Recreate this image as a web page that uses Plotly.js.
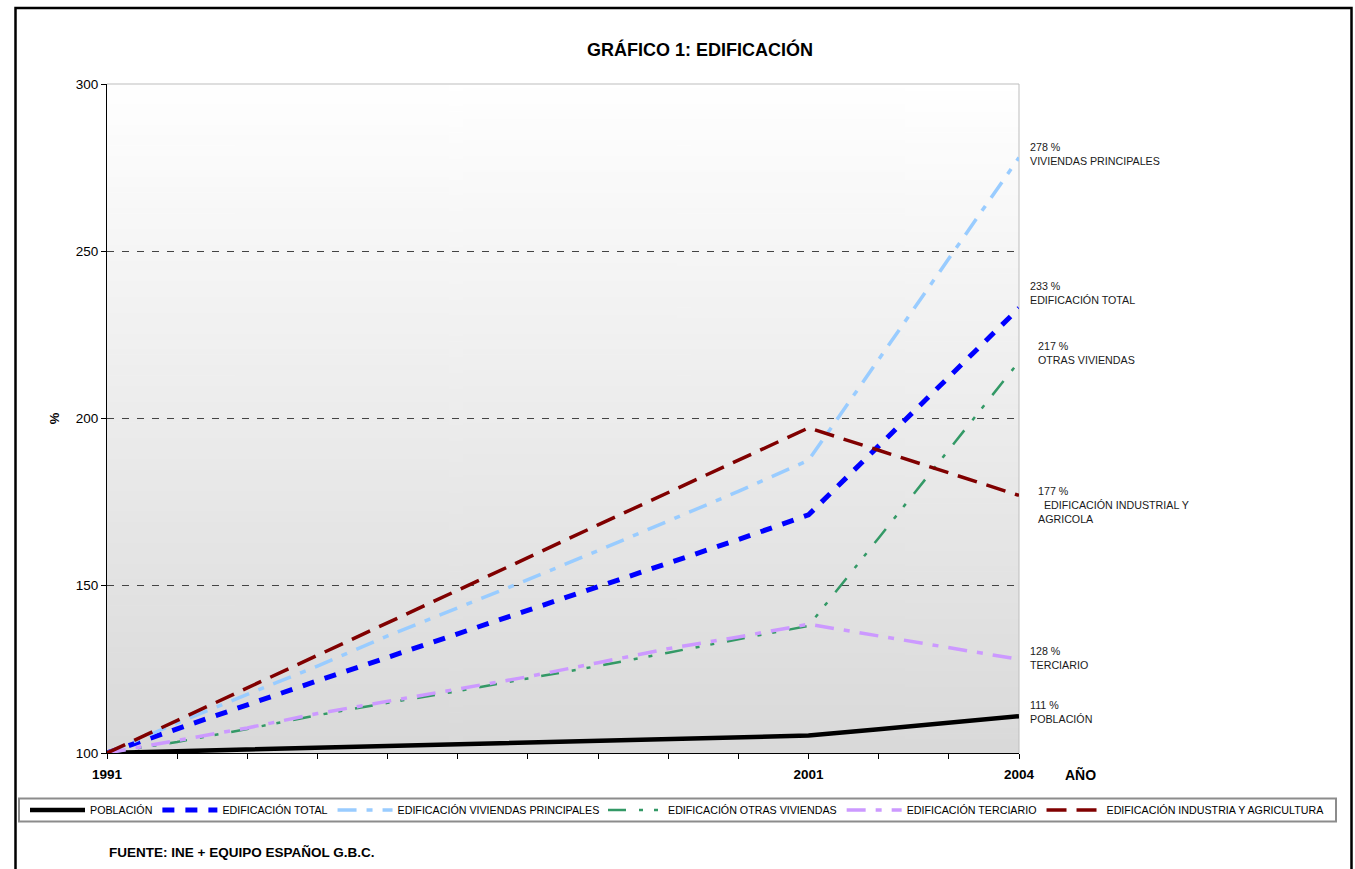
<!DOCTYPE html>
<html>
<head>
<meta charset="utf-8">
<script src="https://cdn.plot.ly/plotly-3.0.1.min.js"></script>
<style>
  html, body { margin: 0; padding: 0; background: #ffffff; }
  #chart { width: 1355px; height: 869px; }
</style>
</head>
<body>
<div id="chart"></div>
<script>
// Índices 1991 = 100
const years = [1991, 1992, 1993, 1994, 1995, 1996, 1997, 1998, 1999, 2000, 2001, 2002, 2003, 2004];
const labelledYears = [1991, 2001, 2004];

const poblacion        = [100, 100.5, 101.0, 101.5, 102.0, 102.4, 103.0, 103.6, 104.1, 104.6, 105.2, 107.1, 109.1, 111];
const edifTotal        = [100, 107.3, 114.4, 121.6, 128.6, 135.6, 142.6, 149.5, 156.6, 163.8, 171.2, 191.8, 212.4, 233];
const edifViviendasPr  = [100, 109.0, 117.5, 126.0, 135.0, 143.4, 151.8, 160.5, 169.3, 178.2, 187.5, 217.7, 247.8, 278];
const edifOtrasViv     = [100, 103.3, 107.2, 111.3, 115.0, 118.5, 122.3, 126.0, 130.0, 134.0, 138.0, 164.3, 190.7, 217];
const edifTerciario    = [100, 103.8, 107.5, 111.8, 115.4, 119.0, 122.8, 127.0, 131.2, 134.7, 138.5, 135.0, 131.5, 128];
const edifIndustria    = [100, 109.7, 119.5, 129.2, 139.0, 148.7, 158.4, 168.2, 177.9, 187.6, 197.2, 190.5, 183.8, 177];

const yTicks = [100, 150, 200, 250, 300];

const legendNames = [
  'POBLACIÓN',
  'EDIFICACIÓN TOTAL',
  'EDIFICACIÓN VIVIENDAS PRINCIPALES',
  'EDIFICACIÓN OTRAS VIVIENDAS',
  'EDIFICACIÓN TERCIARIO',
  'EDIFICACIÓN INDUSTRIA Y AGRICULTURA'
];
const endLabels = [
  'POBLACIÓN',
  'EDIFICACIÓN TOTAL',
  'VIVIENDAS PRINCIPALES',
  'OTRAS VIVIENDAS',
  'TERCIARIO',
  '\u00a0\u00a0EDIFICACIÓN INDUSTRIAL Y<br>AGRICOLA'
];
const seriesValues = [poblacion, edifTotal, edifViviendasPr, edifOtrasViv, edifTerciario, edifIndustria];

// line styles per series
const styles = [
  { color: '#000000', width: 4.5, dash: 'solid' },
  { color: '#0000FF', width: 5,   dash: '12px,11px' },
  { color: '#99CCFF', width: 3.5, dash: '19px,10px,6px,10px' },
  { color: '#339966', width: 2.5, dash: '18px,13px,4px,11px,4px,13px' },
  { color: '#CC99FF', width: 3.5, dash: '19px,10px,6px,10px' },
  { color: '#800000', width: 3.5, dash: '20px,10px' }
];
// the legend row is split into two groups so it stays on one line
const legendGroupOf = ['legend', 'legend', 'legend', 'legend2', 'legend2', 'legend2'];

// placement of the end-of-line labels (value axis centre, pixel shift right of 2004)
const endLabelPlacement = [
  { y: 112.3, shift: 9 },
  { y: 237.5, shift: 9 },
  { y: 279.2, shift: 9 },
  { y: 219.6, shift: 17 },
  { y: 128.4, shift: 9 },
  { y: 174.1, shift: 17 }
];

const FONT = 'Liberation Sans, Arial, Helvetica, sans-serif';
const W = 1355, H = 869;
const M = { l: 107, r: 336, t: 84, b: 116 };
const plotW = W - M.l - M.r, plotH = H - M.t - M.b;
const px = v => (v - M.l) / plotW;          // page x -> paper x
const py = v => (H - M.b - v) / plotH;      // page y -> paper y

// vertical white-to-grey wash behind the plot area
function gradientSource(top, bottom) {
  const c = document.createElement('canvas');
  c.width = 4; c.height = 256;
  const g = c.getContext('2d');
  const grad = g.createLinearGradient(0, 0, 0, 256);
  grad.addColorStop(0, top);
  grad.addColorStop(1, bottom);
  g.fillStyle = grad;
  g.fillRect(0, 0, 4, 256);
  return c.toDataURL('image/png');
}

const traces = seriesValues.map((vals, i) => ({
  type: 'scatter',
  mode: 'lines',
  name: legendNames[i],
  legend: legendGroupOf[i],
  x: years,
  y: vals,
  line: { color: styles[i].color, width: styles[i].width, dash: styles[i].dash },
  hoverinfo: 'x+y+name'
}));

const endAnnotations = seriesValues.map((vals, i) => ({
  xref: 'x', yref: 'y',
  x: years[years.length - 1],
  y: endLabelPlacement[i].y,
  xshift: endLabelPlacement[i].shift,
  xanchor: 'left', yanchor: 'middle', align: 'left',
  showarrow: false,
  text: vals[vals.length - 1] + ' %<br>' + endLabels[i],
  font: { family: FONT, size: 10.7, color: '#1a1a1a' }
}));

const legendCommon = {
  orientation: 'h',
  xanchor: 'left', yanchor: 'top',
  bgcolor: 'rgba(0,0,0,0)', borderwidth: 0,
  itemwidth: 55,
  font: { family: FONT, size: 10.7, color: '#000000' }
};

const layout = {
  width: W, height: H,
  margin: M,
  paper_bgcolor: '#ffffff',
  plot_bgcolor: 'rgba(0,0,0,0)',
  font: { family: FONT, color: '#000000' },
  title: {
    text: '<b>GRÁFICO 1: EDIFICACIÓN</b>',
    font: { family: FONT, size: 18, color: '#000000' },
    xref: 'container', yref: 'container',
    x: 700 / W, y: 1 - 50 / H, xanchor: 'center', yanchor: 'middle'
  },
  showlegend: true,
  legend: Object.assign({}, legendCommon, { x: px(25), y: py(795.5) }),
  legend2: Object.assign({}, legendCommon, { x: px(603), y: py(795.5) }),
  xaxis: {
    range: [years[0], years[years.length - 1]],
    tickvals: years,
    ticktext: years.map(y => labelledYears.includes(y) ? String(y) : ''),
    ticks: 'outside', ticklen: 5, tickcolor: '#000000', tickwidth: 1,
    showline: true, linecolor: '#000000', linewidth: 1,
    showgrid: false, zeroline: false,
    tickfont: { family: FONT, size: 13.5, color: '#000000', weight: 'bold' },
    ticklabelstandoff: 4
  },
  yaxis: {
    range: [yTicks[0], yTicks[yTicks.length - 1]],
    tickvals: yTicks,
    ticks: 'outside', ticklen: 5, tickcolor: '#000000', tickwidth: 1,
    showline: true, linecolor: '#000000', linewidth: 1,
    zeroline: false,
    showgrid: true, gridcolor: '#444444', gridwidth: 1, griddash: '7px,8px',
    tickfont: { family: FONT, size: 13.5, color: '#000000' },
    automargin: true,
    title: { text: '<b>%</b>', font: { family: FONT, size: 13, color: '#000000' }, standoff: 13 }
  },
  images: [{
    source: gradientSource('#ffffff', '#d9d9d9'),
    xref: 'paper', yref: 'paper',
    x: 0, y: 1, sizex: 1, sizey: 1,
    xanchor: 'left', yanchor: 'top',
    sizing: 'stretch', layer: 'below'
  }],
  shapes: [
    // light frame on the open sides of the plot area
    { type: 'line', xref: 'paper', yref: 'paper', x0: 0, x1: 1, y0: 1, y1: 1,
      line: { color: '#bdbdbd', width: 1 }, layer: 'below' },
    { type: 'line', xref: 'paper', yref: 'paper', x0: 1, x1: 1, y0: 0, y1: 1,
      line: { color: '#bdbdbd', width: 1 }, layer: 'below' },
    // box around the legend row
    { type: 'rect', xref: 'paper', yref: 'paper',
      x0: px(19), x1: px(1336), y0: py(821.5), y1: py(798.5),
      line: { color: '#8c8c8c', width: 2 }, fillcolor: '#ffffff', layer: 'below' },
    // outer frame of the figure
    { type: 'rect', xref: 'paper', yref: 'paper',
      x0: px(15.5), x1: px(1351.5), y0: py(900), y1: py(8),
      line: { color: '#000000', width: 2.5 }, fillcolor: 'rgba(0,0,0,0)', layer: 'above' }
  ],
  annotations: endAnnotations.concat([
    {
      xref: 'paper', yref: 'paper', x: px(1080), y: py(774),
      xanchor: 'center', yanchor: 'middle', showarrow: false,
      text: '<b>AÑO</b>', font: { family: FONT, size: 14, color: '#000000' }
    },
    {
      xref: 'paper', yref: 'paper', x: px(107), y: py(852),
      xanchor: 'left', yanchor: 'middle', showarrow: false,
      text: '<b>FUENTE: INE + EQUIPO ESPAÑOL G.B.C.</b>',
      font: { family: FONT, size: 13.5, color: '#000000' }
    }
  ])
};

Plotly.newPlot('chart', traces, layout, { displayModeBar: false, staticPlot: true });
</script>
</body>
</html>
